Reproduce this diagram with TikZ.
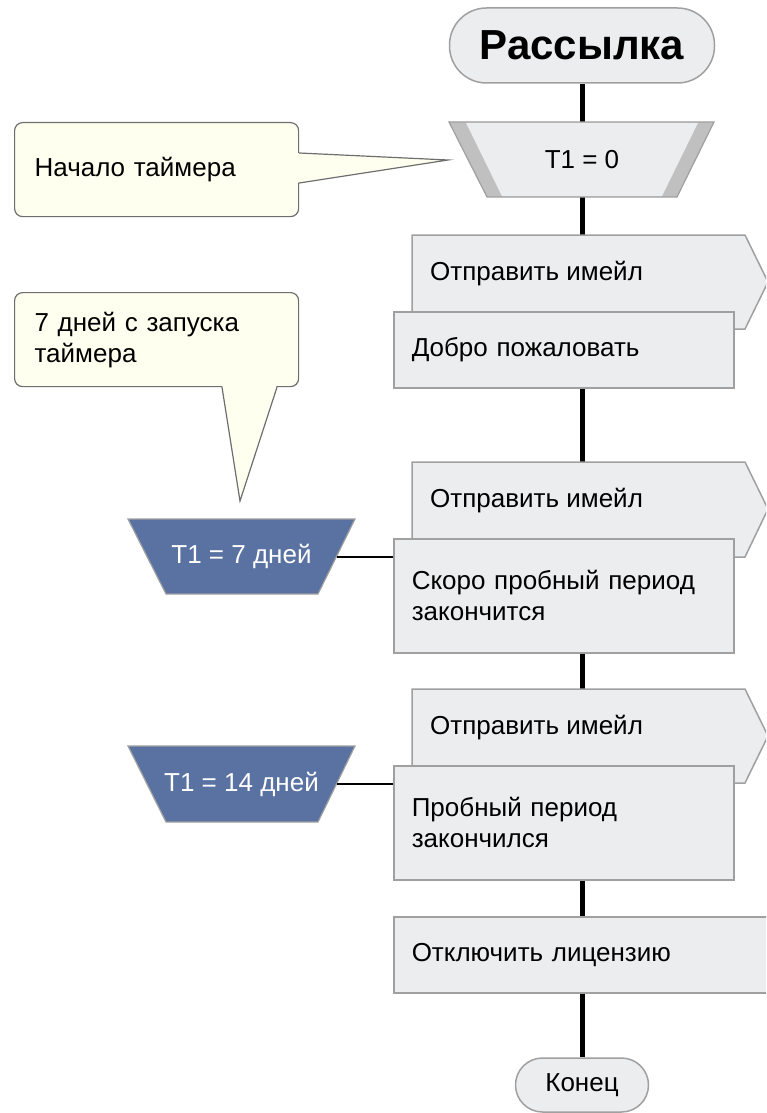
\documentclass[tikz,border=0pt]{standalone}
\usepackage{fontspec}
\setmainfont{Liberation Sans}
\definecolor{boxgray}{RGB}{236, 237, 239}
\definecolor{edgegray}{RGB}{160, 160, 160}
\definecolor{bandgray}{RGB}{192, 192, 192}
\definecolor{notefill}{RGB}{255, 255, 240}
\definecolor{noteedge}{RGB}{110, 110, 110}
\definecolor{timeblue}{RGB}{90, 114, 161}
\usetikzlibrary{positioning, calc, backgrounds}

\begin{document}
\begin{tikzpicture}[x=1pt, y=-1pt, font=\fontsize{26}{31}\selectfont,
  term/.style={draw=edgegray, fill=boxgray, line width=1.5pt, inner sep=0pt},
  procbox/.style={draw=edgegray, fill=boxgray, line width=1.5pt, text width=304pt, inner xsep=18pt, align=left},
  mailshape/.style={draw=edgegray, fill=boxgray, line width=1.5pt},
  timershape/.style={draw=edgegray, line width=1.2pt},
  note/.style={draw=noteedge, fill=notefill, line width=1.2pt, rounded corners=8pt, text width=244pt, inner xsep=20pt, align=left, minimum height=94pt}]
  \useasboundingbox (0,0) rectangle (766,1113);
  \clip (0,0) rectangle (766,1113);

  % Start
  \node[term, minimum width=265pt, minimum height=75pt, rounded corners=37pt, font=\fontsize{42}{46}\selectfont\bfseries] (title) at (582,45.5) {Рассылка};

  % Timer start
  \draw[timershape, fill=bandgray] (449,122) -- (714,122) -- (677,197) -- (487,197) -- cycle;
  \fill[boxgray] (466,122.8) -- (698,122.8) -- (662,196.2) -- (502,196.2) -- cycle;
  \node (tmr0) at (582,159.5) {T1 = 0};

  % Notes
  \node[note, anchor=north west] (note0) at (14,122) {Начало таймера};
  \fill[notefill] ($(note0.north east)+(-3,31)$) -- (448,160) -- ($(note0.north east)+(-3,61)$) -- cycle;
  \draw[noteedge, line width=1.2pt] ($(note0.north east)+(0,31)$) -- (448,160) -- ($(note0.north east)+(0,61)$);

  \node[note, anchor=north west] (note7) at (14,292) {7 дней с запуска\\таймера};
  \fill[notefill] ($(note7.south west)+(208,-3)$) -- (240,501) -- ($(note7.south west)+(263,-3)$) -- cycle;
  \draw[noteedge, line width=1.2pt] ($(note7.south west)+(208,0)$) -- (240,501) -- ($(note7.south west)+(263,0)$);

  % Welcome mail
  \draw[mailshape] (412,235) -- (745,235) -- (768,282) -- (745,329) -- (412,329) -- cycle;
  \node[anchor=west, inner sep=0pt] (send1) at (430,274) {Отправить имейл};
  \node[procbox, minimum height=76pt, anchor=north west] (welcome) at (393,311) {Добро пожаловать};

  % Trial ends soon
  \draw[timershape, fill=timeblue] (128,519) -- (355,519) -- (318,594) -- (166,594) -- cycle;
  \node[text=white] (tmr7) at (241.5,556.5) {T1 = 7 дней};
  \coordinate (tmr7r) at (336.5,556.5);
  \draw[mailshape] (412,462) -- (745,462) -- (768,509) -- (745,557) -- (412,557) -- cycle;
  \node[anchor=west, inner sep=0pt] (send2) at (430,501) {Отправить имейл};
  \node[procbox, minimum height=114pt, anchor=north west] (soon) at (393,538) {Скоро пробный период\\закончится};
  \draw[line width=2pt] (tmr7r) -- (tmr7r -| soon.west);

  % Trial ended
  \draw[timershape, fill=timeblue] (128,746) -- (355,746) -- (318,822) -- (166,822) -- cycle;
  \node[text=white] (tmr14) at (241.5,784) {T1 = 14 дней};
  \coordinate (tmr14r) at (336.5,784);
  \draw[mailshape] (412,689) -- (745,689) -- (768,736) -- (745,783) -- (412,783) -- cycle;
  \node[anchor=west, inner sep=0pt] (send3) at (430,728) {Отправить имейл};
  \node[procbox, minimum height=114pt, anchor=north west] (ended) at (393,765) {Пробный период\\закончился};
  \draw[line width=2pt] (tmr14r) -- (tmr14r -| ended.west);

  % Licence
  \node[procbox, text width=344pt, minimum height=76pt, anchor=north west] (licence) at (393,916) {Отключить лицензию};

  % End
  \node[term, minimum width=133pt, minimum height=54pt, rounded corners=27pt] (fin) at (582,1085) {Конец};

  % Main line
  \begin{scope}[on background layer]
    \draw[line width=5pt] (title) -- (fin);
  \end{scope}
\end{tikzpicture}
\end{document}
